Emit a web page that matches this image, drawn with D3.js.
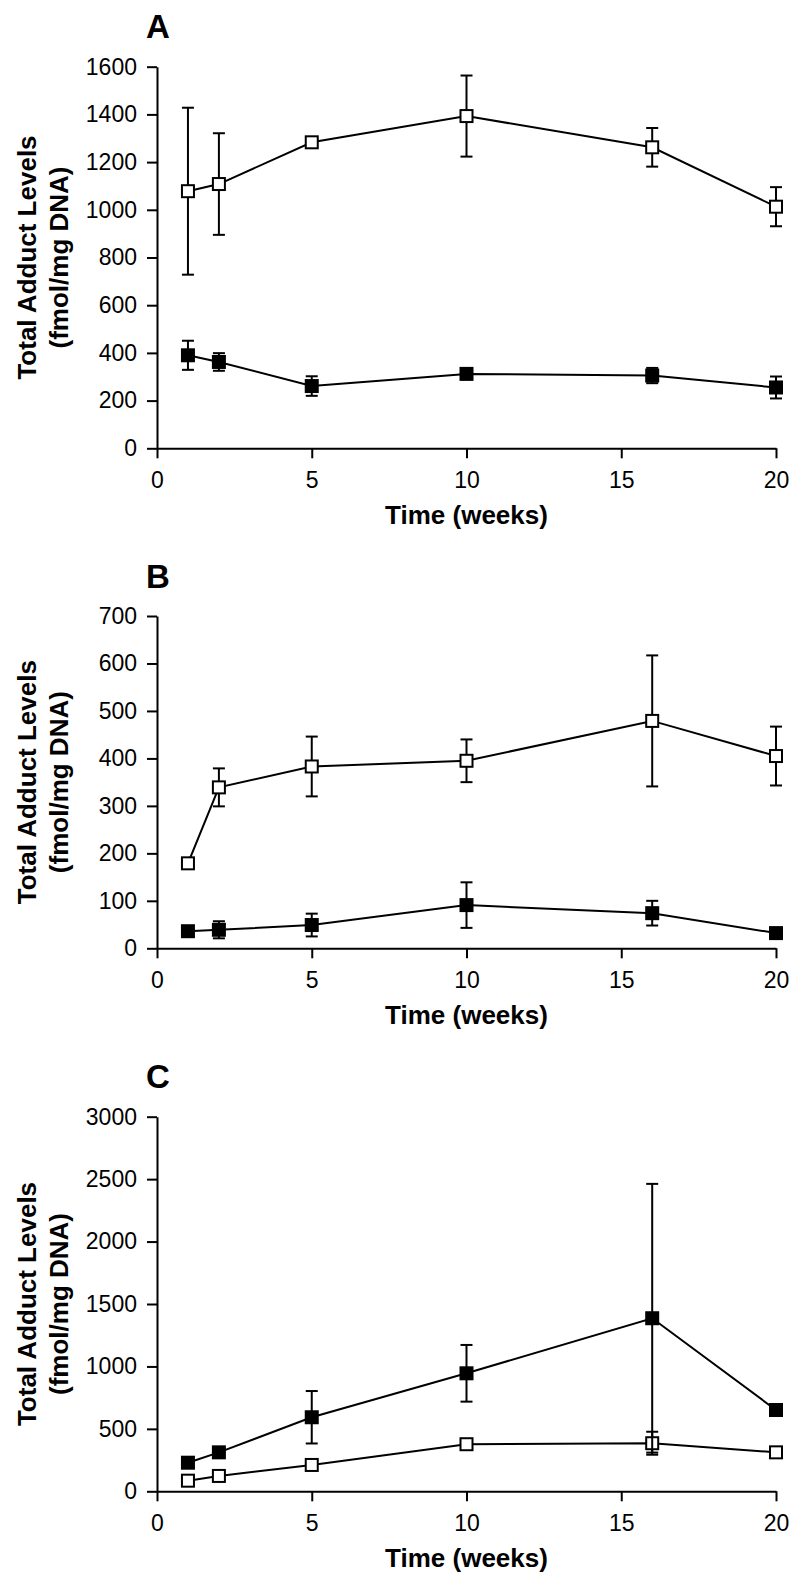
<!DOCTYPE html>
<html>
<head>
<meta charset="utf-8">
<script src="https://cdn.jsdelivr.net/npm/d3@7"></script>
<style>
  html, body { margin: 0; padding: 0; background: #fff; }
  svg { display: block; font-family: "Liberation Sans", Arial, Helvetica, sans-serif; }
</style>
</head>
<body>
<script>
// ---- Data ----
const weeks = [1, 2, 5, 10, 16, 20];
const xTicks = [0, 5, 10, 15, 20];

const aOpenMean = [1078, 1108, 1283, 1393, 1262, 1013];
const aOpenErr = [350, 213, 10, 170, 81, 82];
const aFilledMean = [390, 362, 261, 312, 305, 255];
const aFilledErr = [61, 37, 41, 22, 32, 46];
const aTicks = [0, 200, 400, 600, 800, 1000, 1200, 1400, 1600];

const bOpenMean = [179, 339, 383, 395, 479, 405];
const bOpenErr = [5, 40, 63, 45, 138, 62];
const bFilledMean = [36, 39, 49, 91, 74, 32];
const bFilledErr = [8, 18, 24, 48, 26, 6];
const bTicks = [0, 100, 200, 300, 400, 500, 600, 700];

const cOpenMean = [85, 123, 211, 377, 385, 312];
const cOpenErr = [10, 10, 15, 20, 92, 20];
const cFilledMean = [229, 312, 593, 945, 1386, 651];
const cFilledErr = [20, 25, 210, 227, 1076, 20];
const cTicks = [0, 500, 1000, 1500, 2000, 2500, 3000];

const panelLetters = ["A", "B", "C"];
const yLabelLines = ["Total Adduct Levels", "(fmol/mg DNA)"];
const xLabel = "Time (weeks)";

// ---- Layout ----
const W = 800, H = 1589;
const xLeft = 157, xRight = 776;
const panels = [
  { letter: panelLetters[0], letterY: 38, top: 66.7, bottom: 448.3, ticks: aTicks,
    series: [{ mean: aOpenMean, err: aOpenErr, fill: "#fff" }, { mean: aFilledMean, err: aFilledErr, fill: "#000" }] },
  { letter: panelLetters[1], letterY: 588, top: 616, bottom: 948.3, ticks: bTicks,
    series: [{ mean: bOpenMean, err: bOpenErr, fill: "#fff" }, { mean: bFilledMean, err: bFilledErr, fill: "#000" }] },
  { letter: panelLetters[2], letterY: 1088, top: 1116.7, bottom: 1491.3, ticks: cTicks,
    series: [{ mean: cOpenMean, err: cOpenErr, fill: "#fff" }, { mean: cFilledMean, err: cFilledErr, fill: "#000" }] }
];

const svg = d3.select("body").append("svg").attr("width", W).attr("height", H);
const x = d3.scaleLinear().domain([0, 20]).range([xLeft, xRight]);
const markerSize = 12, capW = 12;

panels.forEach(p => {
  const y = d3.scaleLinear().domain([0, d3.max(p.ticks)]).range([p.bottom, p.top]);
  const g = svg.append("g");

  // Panel letter
  g.append("text").attr("x", 158).attr("y", p.letterY)
    .attr("text-anchor", "middle").attr("font-size", 33).attr("font-weight", "bold")
    .text(p.letter);

  // Y axis
  const yAxis = g.append("g").attr("transform", `translate(${xLeft},0)`)
    .call(d3.axisLeft(y).tickValues(p.ticks).tickFormat(d3.format("d")).tickSize(10).tickPadding(10).tickSizeOuter(0));
  // X axis
  const xAxis = g.append("g").attr("transform", `translate(0,${p.bottom})`)
    .call(d3.axisBottom(x).tickValues(xTicks).tickFormat(d3.format("d")).tickSize(10).tickPadding(13).tickSizeOuter(0));
  [yAxis, xAxis].forEach(ax => {
    ax.selectAll("path.domain").attr("stroke", "#000").attr("stroke-width", 2);
    ax.selectAll(".tick line").attr("stroke", "#000").attr("stroke-width", 2);
    ax.selectAll(".tick text").attr("font-size", 23).attr("fill", "#000")
      .attr("font-family", "'Liberation Sans', Arial, sans-serif");
  });

  // Y label (two lines, rotated)
  const cy = (p.top + p.bottom) / 2;
  [36, 68].forEach((bx, i) => {
    g.append("text").attr("transform", `translate(${bx},${cy}) rotate(-90)`)
      .attr("text-anchor", "middle").attr("font-size", 26).attr("font-weight", "bold")
      .text(yLabelLines[i]);
  });

  // X label
  g.append("text").attr("x", x(10)).attr("y", p.bottom + 76)
    .attr("text-anchor", "middle").attr("font-size", 26).attr("font-weight", "bold")
    .text(xLabel);

  // Series
  p.series.forEach(s => {
    const pts = weeks.map((w, i) => ({ w, m: s.mean[i], e: s.err[i] }));
    const sg = g.append("g");
    // error bars
    pts.forEach(d => {
      const x0 = x(d.w), yT = y(d.m + d.e), yB = y(d.m - d.e);
      sg.append("line").attr("x1", x0).attr("x2", x0).attr("y1", yT).attr("y2", yB)
        .attr("stroke", "#000").attr("stroke-width", 2);
      [yT, yB].forEach(yy => sg.append("line")
        .attr("x1", x0 - capW / 2).attr("x2", x0 + capW / 2).attr("y1", yy).attr("y2", yy)
        .attr("stroke", "#000").attr("stroke-width", 2));
    });
    // connecting line
    sg.append("path").datum(pts)
      .attr("d", d3.line().x(d => x(d.w)).y(d => y(d.m)))
      .attr("fill", "none").attr("stroke", "#000").attr("stroke-width", 2);
    // markers
    sg.selectAll("rect.m").data(pts).enter().append("rect")
      .attr("x", d => x(d.w) - markerSize / 2).attr("y", d => y(d.m) - markerSize / 2)
      .attr("width", markerSize).attr("height", markerSize)
      .attr("fill", s.fill).attr("stroke", "#000").attr("stroke-width", 2);
  });
});
</script>
</body>
</html>
